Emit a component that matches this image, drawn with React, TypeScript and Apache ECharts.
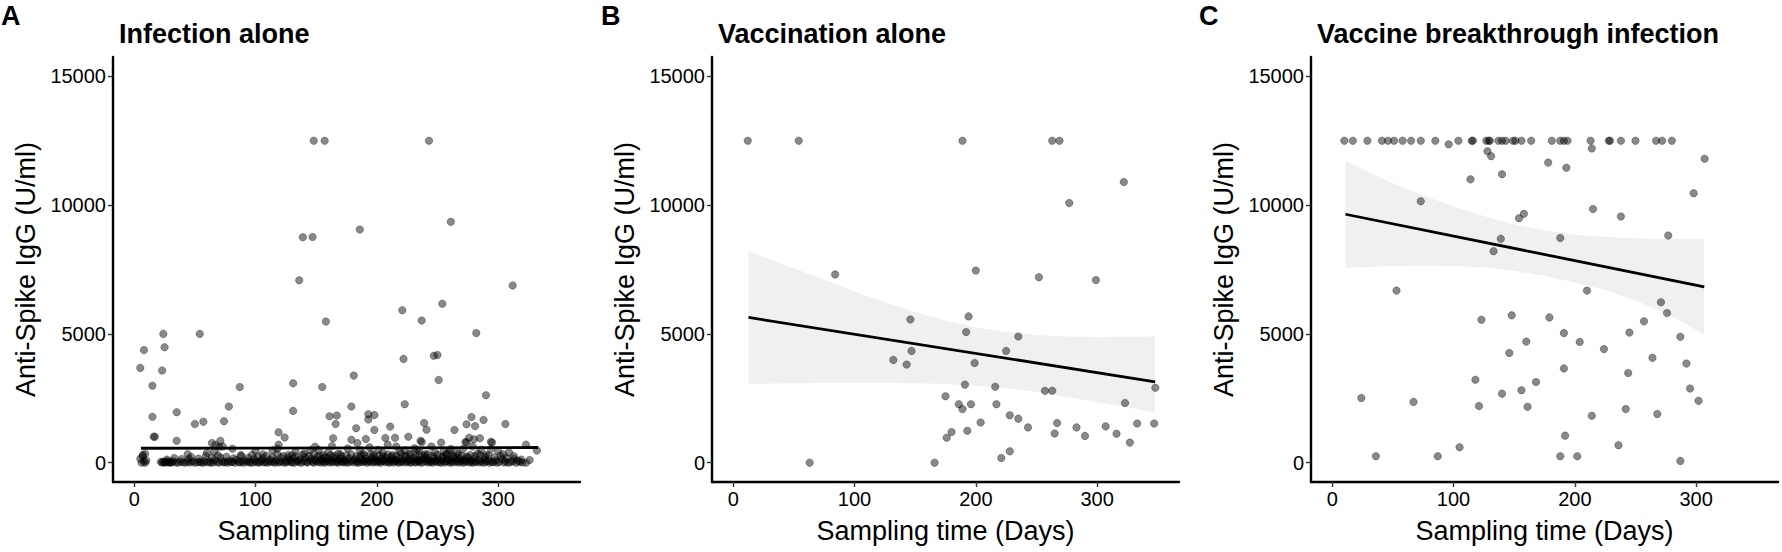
import React, { useEffect, useRef } from "react";
import * as echarts from "echarts";

const FONT = "'Liberation Sans', Arial, Helvetica, sans-serif";

const panelLetters = ["A", "B", "C"];
const panelTitles = ["Infection alone", "Vaccination alone", "Vaccine breakthrough infection"];
const xName = "Sampling time (Days)";
const yName = "Anti-Spike IgG (U/ml)";
const xTicks = [0, 100, 200, 300];
const yTicks = [0, 5000, 10000, 15000];
const xMin = -17.5;
const xMax = 367.5;
const yMin = -750;
const yMax = 15750;

// Panel A: infection alone
const infectionHigh = [
  [148, 12500], [157, 12500], [243, 12500], [261, 9350], [186, 9050], [139, 8750], [147, 8760], [136, 7080],
  [312, 6880], [254, 6170], [221, 5920], [237, 5520], [158, 5480], [24, 5000], [54, 5000], [282, 5030],
  [8, 4370], [25, 4480], [222, 4030], [247, 4150], [250, 4180], [5, 3680], [23, 3580], [181, 3380],
  [251, 3210], [131, 3080], [15, 2990], [87, 2940], [155, 2940], [290, 2620], [223, 2270], [78, 2180],
  [179, 2180], [131, 2010], [35, 1960], [15, 1780], [193, 1880], [198, 1850], [161, 1800], [167, 1830],
  [278, 1770], [193, 1680], [74, 1610], [57, 1590], [50, 1500], [288, 1660], [306, 1500], [166, 1500],
  [239, 1540], [274, 1490], [281, 1420], [211, 1400], [183, 1340], [241, 1280], [198, 1270], [264, 1270],
  [119, 1180], [16, 1010], [17, 1010], [124, 980], [226, 1010], [207, 960], [215, 970], [191, 920],
  [164, 950], [285, 950], [280, 910], [179, 890], [35, 850], [71, 850], [237, 800], [253, 780],
  [295, 780], [274, 790], [323, 700], [67, 690], [332, 470], [316, 80],
];
const infectionMid = [
  [7, 250], [9, 350], [44, 330], [60, 380], [64, 760], [66, 420], [70, 620], [73, 630], [81, 540], [88, 300],
  [100, 460], [106, 320], [114, 480], [118, 540], [119, 700], [127, 300], [133, 420], [140, 350], [145, 480],
  [149, 620], [152, 500], [156, 300], [160, 400], [163, 650], [170, 330], [176, 550], [184, 760], [186, 480],
  [189, 350], [194, 600], [197, 320], [201, 500], [205, 380], [209, 700], [213, 300], [216, 630], [219, 420],
  [223, 480], [227, 350], [231, 560], [233, 500], [235, 450], [236, 850], [240, 330], [245, 630], [248, 400],
  [255, 440], [258, 320], [260, 460], [261, 530], [266, 380], [271, 530], [273, 800], [276, 970], [279, 630],
  [283, 350], [286, 500], [290, 300], [294, 530], [294, 810], [300, 460], [304, 330], [309, 400], [313, 250],
];
const infectionLow = [
  [5, 150], [6, 0], [7, 300], [8, 50], [9, 0], [10, 80],
  [22, 30], [23, 10], [24, 40], [25, 0], [26, 20], [27, 50], [28, 10], [29, 30], [30, 0], [31, 20], [32, 60],
  [34, 10], [36, 0], [38, 40], [40, 20], [42, 0], [44, 30], [45, 150], [46, 10], [48, 50], [50, 0], [52, 20],
  [54, 40], [55, 10], [57, 0], [58, 60], [60, 20], [62, 40], [63, 0], [65, 10], [66, 90], [68, 30], [70, 0],
  [71, 200], [72, 50], [74, 10], [75, 30], [77, 0], [78, 70], [80, 20], [81, 40], [83, 0], [84, 100], [86, 30],
  [87, 10], [89, 50], [90, 0], [92, 80], [93, 20], [95, 40], [96, 0], [98, 10], [99, 150], [100, 60], [101, 20],
  [103, 0], [104, 40], [105, 90], [107, 10], [108, 30], [110, 0], [111, 60], [112, 120], [113, 20], [115, 40],
  [116, 0], [117, 80], [119, 10], [120, 50], [121, 200], [122, 30], [124, 0], [125, 70], [126, 20], [128, 100],
  [129, 40], [130, 10], [131, 160], [132, 0], [134, 50], [135, 90], [136, 20], [137, 130], [138, 0], [140, 60],
  [141, 200], [142, 30], [143, 10], [145, 80], [146, 150], [147, 40], [148, 0], [149, 110], [150, 60], [151, 230],
  [152, 20], [153, 90], [154, 10], [155, 140], [156, 50], [157, 0], [158, 70], [159, 180], [160, 30], [161, 100],
  [162, 10], [163, 60], [164, 200], [165, 20], [166, 120], [167, 40], [168, 0], [169, 80], [170, 150], [171, 30],
  [172, 60], [173, 10], [174, 100], [175, 40], [176, 0], [177, 170], [178, 50], [180, 20], [181, 90], [182, 130],
  [183, 10], [184, 60], [185, 0], [186, 200], [187, 40], [188, 110], [189, 20], [190, 70], [191, 150], [192, 0],
  [193, 50], [194, 90], [195, 30], [196, 180], [197, 10], [198, 60], [199, 120], [200, 20], [201, 80], [202, 40],
  [203, 0], [204, 150], [205, 60], [206, 100], [207, 20], [208, 200], [209, 50], [210, 0], [211, 90], [212, 30],
  [213, 140], [214, 10], [215, 70], [216, 110], [217, 40], [218, 0], [219, 160], [220, 50], [221, 20], [222, 100],
  [223, 230], [224, 10], [225, 60], [226, 130], [227, 30], [228, 0], [229, 80], [230, 180], [231, 40], [232, 10],
  [233, 120], [234, 60], [235, 20], [236, 90], [237, 0], [238, 150], [239, 40], [240, 200], [241, 70], [242, 10],
  [243, 110], [244, 30], [245, 60], [246, 0], [247, 170], [248, 50], [249, 90], [250, 20], [251, 130], [252, 40],
  [253, 0], [254, 80], [255, 220], [256, 10], [257, 60], [258, 140], [259, 30], [260, 90], [261, 0], [262, 50],
  [263, 200], [264, 20], [265, 110], [266, 60], [267, 10], [268, 150], [269, 40], [270, 80], [271, 0], [272, 120],
  [273, 30], [274, 60], [275, 200], [276, 10], [277, 90], [278, 40], [279, 0], [280, 130], [281, 50], [282, 20],
  [284, 90], [285, 10], [286, 60], [288, 0], [289, 110], [290, 30], [292, 70], [293, 0], [295, 40], [296, 20],
  [298, 80], [299, 0], [301, 30], [303, 150], [305, 10], [306, 60], [308, 0], [310, 20], [312, 50], [315, 0],
  [318, 30], [320, 10], [323, 0], [326, 100],
];
const infectionLowUpper = [
  [27, 120], [33, 180], [39, 140], [47, 220], [53, 160], [59, 260], [64, 190], [69, 280], [76, 230], [82, 170],
  [88, 250], [94, 190], [97, 300], [102, 240], [106, 180], [109, 270], [114, 210], [118, 330], [123, 260],
  [127, 190], [130, 290], [133, 240], [139, 310], [144, 250], [148, 340], [153, 270], [157, 220], [162, 300],
  [165, 260], [168, 350], [171, 240], [175, 290], [179, 320], [183, 250], [187, 300], [190, 270], [195, 340],
  [198, 230], [202, 290], [205, 260], [209, 320], [212, 240], [216, 280], [220, 350], [224, 270], [228, 310],
  [232, 250], [235, 300], [239, 270], [242, 330], [246, 260], [250, 300], [254, 240], [257, 330], [261, 280],
  [264, 250], [267, 320], [270, 270], [274, 240], [277, 300], [281, 260], [285, 310], [289, 230], [292, 280],
  [297, 220], [302, 260], [307, 180], [313, 150], [319, 120],
];
const infectionFit = [[5.5, 560], [333, 590]];

// Panel B: vaccination alone
const vaccinationPoints = [
  [12, 12500], [54, 12500], [189, 12500], [263, 12500], [269, 12500], [322, 10900], [277, 10080], [84, 7310],
  [200, 7460], [252, 7200], [299, 7090], [146, 5560], [194, 5680], [192, 5070], [235, 4900], [147, 4340],
  [225, 4340], [132, 3990], [143, 3810], [199, 3870], [191, 3030], [216, 2950], [257, 2790], [263, 2790],
  [348, 2910], [175, 2580], [323, 2320], [186, 2270], [196, 2270], [217, 2270], [189, 2080], [228, 1840],
  [235, 1710], [204, 1560], [267, 1540], [333, 1520], [347, 1520], [243, 1370], [283, 1370], [307, 1410],
  [180, 1190], [193, 1240], [265, 1130], [316, 1120], [176, 970], [290, 1040], [327, 780], [228, 440],
  [221, 180], [63, 0], [166, 0],
];
const vaccinationFit = [[12.6, 5640], [347.8, 3140]];
const vaccinationBandDays = [12.6, 25, 50, 75, 100, 125, 150, 175, 200, 225, 250, 275, 300, 325, 347.8];
const vaccinationBandUpper = [8210, 7980, 7550, 7100, 6650, 6230, 5850, 5520, 5250, 5070, 4950, 4900, 4880, 4890, 4900];
const vaccinationBandLower = [3050, 3060, 3080, 3090, 3100, 3095, 3080, 3050, 3000, 2900, 2750, 2560, 2350, 2150, 1950];

// Panel C: vaccine breakthrough infection
const breakthroughCapDays = [
  10, 17, 29, 41, 46, 51, 58, 65, 73, 85, 104, 115, 116, 127, 129, 130, 137, 140, 143, 149, 151, 156, 164,
  181, 188, 191, 194, 213, 228, 229, 238, 250, 267, 272, 280,
];
const breakthroughCapValue = 12500;
const breakthroughPoints = [
  [96, 12360], [128, 12090], [131, 11900], [214, 12200], [307, 11800], [178, 11650], [193, 11450], [140, 11200],
  [114, 11000], [298, 10460], [73, 10150], [215, 9850], [238, 9560], [158, 9660], [154, 9490], [277, 8820],
  [188, 8720], [139, 8690], [133, 8210], [53, 6680], [210, 6680], [271, 6230], [276, 5810], [148, 5720],
  [179, 5640], [123, 5550], [257, 5490], [191, 5030], [245, 5050], [287, 4890], [160, 4700], [204, 4690],
  [224, 4410], [146, 4260], [264, 4070], [292, 3850], [191, 3660], [244, 3480], [118, 3220], [168, 3130],
  [156, 2810], [295, 2880], [140, 2680], [24, 2510], [302, 2400], [67, 2360], [121, 2200], [161, 2170],
  [242, 2080], [268, 1890], [214, 1820], [192, 1050], [236, 680], [105, 600], [36, 250], [87, 250],
  [188, 250], [202, 250], [287, 70],
];
const breakthroughFit = [[10.9, 9645], [306.7, 6830]];
const breakthroughBandDays = [10.9, 25, 50, 75, 100, 125, 150, 175, 200, 225, 250, 275, 306.7];
const breakthroughBandUpper = [11720, 11390, 10850, 10380, 9950, 9580, 9250, 9020, 8850, 8760, 8700, 8680, 8680];
const breakthroughBandLower = [7560, 7590, 7650, 7660, 7650, 7580, 7450, 7260, 7000, 6700, 6300, 5800, 4990];

const gridLefts = [113, 712, 1311];
const letterLefts = [1, 601, 1199];
const titleLefts = [119, 718, 1317];

export default function App() {
  const ref = useRef<HTMLDivElement>(null);

  useEffect(() => {
    if (!ref.current) return;
    const chart = echarts.init(ref.current, undefined, { renderer: "svg" });

    const grids = gridLefts.map((left) => ({ left, top: 57, width: 467, height: 425, containLabel: false }));
    const plain = (v: number) => String(v);

    const xAxes = gridLefts.map((_, i) => ({
      type: "value",
      gridIndex: i,
      min: xMin,
      max: xMax,
      name: xName,
      nameLocation: "middle",
      nameGap: 35,
      nameTextStyle: { fontSize: 27, color: "#000", fontFamily: FONT },
      splitLine: { show: false },
      axisLine: { show: true, onZero: false, lineStyle: { color: "#000", width: 2.4 } },
      axisTick: { show: true, length: 5, customValues: xTicks, lineStyle: { color: "#333", width: 1.4 } },
      axisLabel: { customValues: xTicks, formatter: plain, margin: 7, fontSize: 20, color: "#000", fontFamily: FONT },
    }));

    const yAxes = gridLefts.map((_, i) => ({
      type: "value",
      gridIndex: i,
      min: yMin,
      max: yMax,
      name: yName,
      nameLocation: "middle",
      nameGap: 74,
      nameTextStyle: { fontSize: 27, color: "#000", fontFamily: FONT },
      splitLine: { show: false },
      axisLine: { show: true, onZero: false, lineStyle: { color: "#000", width: 2.4 } },
      axisTick: { show: true, length: 5, customValues: yTicks, lineStyle: { color: "#333", width: 1.4 } },
      axisLabel: { customValues: yTicks, formatter: plain, margin: 7, fontSize: 20, color: "#000", fontFamily: FONT },
    }));

    const pointStyle = {
      color: "rgba(0,0,0,0.58)",
      borderColor: "rgba(0,0,0,0.35)",
      borderWidth: 1,
    };

    const band = (idx: number, days: number[], lower: number[], upper: number[]) => ({
      type: "custom",
      xAxisIndex: idx,
      yAxisIndex: idx,
      data: days.map((d, k) => [d, lower[k], upper[k]]),
      encode: { x: 0, y: [1, 2] },
      silent: true,
      z: 1,
      renderItem: (params: any, api: any) => {
        if (params.dataIndex !== 0) return null;
        const top = days.map((d, k) => api.coord([d, upper[k]]));
        const bottom = days.map((d, k) => api.coord([d, lower[k]])).reverse();
        return {
          type: "polygon",
          shape: { points: top.concat(bottom) },
          style: { fill: "#f0f0f0", stroke: null },
        };
      },
    });

    const scatter = (idx: number, data: number[][]) => ({
      type: "scatter",
      xAxisIndex: idx,
      yAxisIndex: idx,
      data,
      symbolSize: 7.5,
      itemStyle: pointStyle,
      z: 3,
    });

    const fit = (idx: number, data: number[][]) => ({
      type: "line",
      xAxisIndex: idx,
      yAxisIndex: idx,
      data,
      symbol: "none",
      lineStyle: { color: "#000", width: 2.8 },
      z: 4,
    });

    const breakthroughAll = breakthroughCapDays
      .map((d) => [d, breakthroughCapValue])
      .concat(breakthroughPoints);

    const option = {
      animation: false,
      textStyle: { fontFamily: FONT },
      title: [
        ...panelLetters.map((t, i) => ({
          text: t,
          left: letterLefts[i],
          top: 2,
          padding: 0,
          textStyle: { fontSize: 27, fontWeight: "bold", color: "#000", fontFamily: FONT },
        })),
        ...panelTitles.map((t, i) => ({
          text: t,
          left: titleLefts[i],
          top: 20,
          padding: 0,
          textStyle: { fontSize: 27, fontWeight: "bold", color: "#000", fontFamily: FONT },
        })),
      ],
      grid: grids,
      xAxis: xAxes,
      yAxis: yAxes,
      series: [
        scatter(0, infectionLow.concat(infectionLowUpper, infectionMid, infectionHigh)),
        fit(0, infectionFit),
        band(1, vaccinationBandDays, vaccinationBandLower, vaccinationBandUpper),
        scatter(1, vaccinationPoints),
        fit(1, vaccinationFit),
        band(2, breakthroughBandDays, breakthroughBandLower, breakthroughBandUpper),
        scatter(2, breakthroughAll),
        fit(2, breakthroughFit),
      ],
    };

    chart.setOption(option as any);
    return () => chart.dispose();
  }, []);

  return (
    <div
      ref={ref}
      style={{ position: "absolute", left: 0, top: 0, width: 1782, height: 552, background: "#fff" }}
    />
  );
}
